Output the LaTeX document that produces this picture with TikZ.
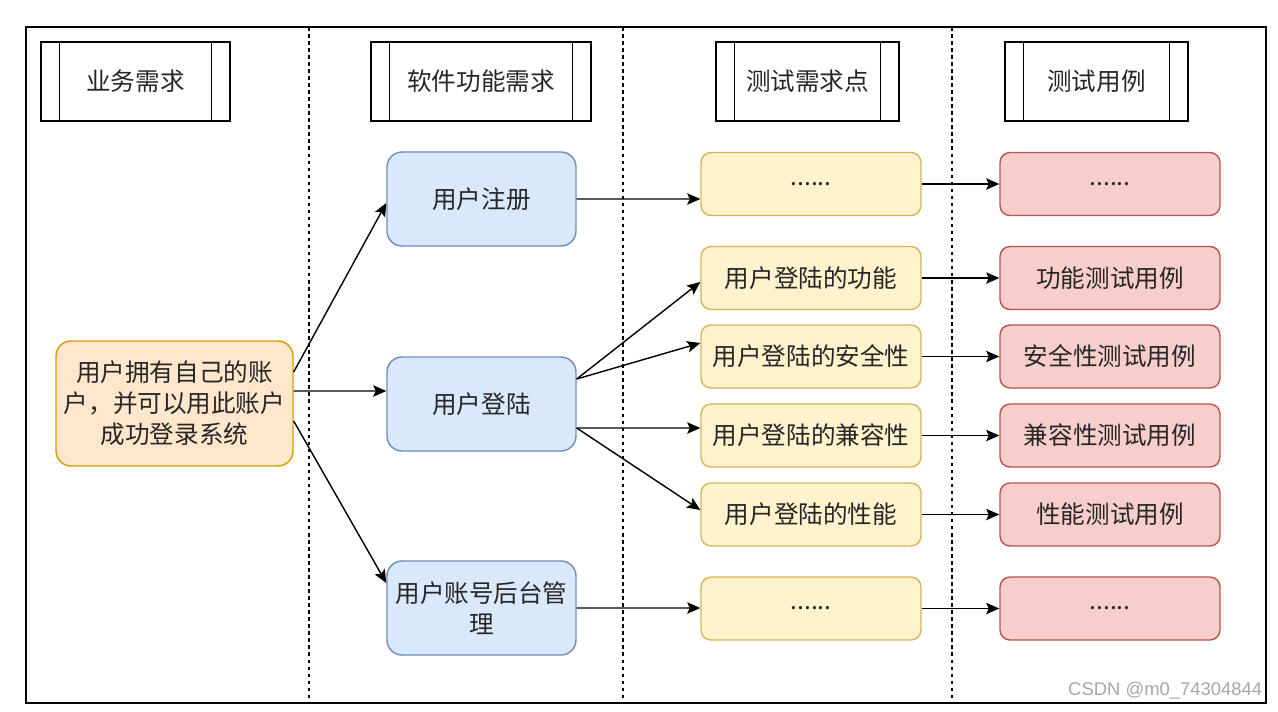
\documentclass[tikz,border=0pt]{standalone}
\usepackage{fontspec}
\usetikzlibrary{arrows.meta}
\newfontfamily\cjk{Noto Sans CJK SC}
\setsansfont{Liberation Sans}
\definecolor{bizfill}{HTML}{FFE6CC}
\definecolor{bizline}{HTML}{D79B00}
\definecolor{funfill}{HTML}{DAE8FC}
\definecolor{funline}{HTML}{6C8EBF}
\definecolor{ptfill}{HTML}{FFF2CC}
\definecolor{ptline}{HTML}{D6B656}
\definecolor{tcfill}{HTML}{F8CECC}
\definecolor{tcline}{HTML}{B85450}

\begin{document}
\begin{tikzpicture}[x=0.02cm, y=-0.02cm, line width=0.8pt,
    every node/.style={font=\cjk\fontsize{14}{17.6}\selectfont, text=black!85, inner sep=0pt, align=center},
    header/.style={draw=black, minimum height=1.58cm},
    biz/.style={draw=bizline, fill=bizfill, rounded corners=0.3cm, minimum width=4.74cm, minimum height=2.5cm},
    func/.style={draw=funline, fill=funfill, rounded corners=0.3cm, minimum width=3.78cm, minimum height=1.88cm},
    tpoint/.style={draw=ptline, fill=ptfill, rounded corners=0.2cm, minimum width=4.4cm, minimum height=1.26cm},
    tcase/.style={draw=tcline, fill=tcfill, rounded corners=0.2cm, minimum width=4.4cm, minimum height=1.26cm},
    lane/.style={black, line width=0.7pt, dash pattern=on 2pt off 2pt},
    link/.style={-{Stealth[length=7.5pt, width=6.5pt, inset=1.5pt]}, black}]
    \useasboundingbox (0,0) rectangle (1278,711);
    \draw[black] (26,27) rectangle (1266,703);
    \draw[lane] (309,27) -- (309,703);
    \draw[lane] (623,27) -- (623,703);
    \draw[lane] (952,27) -- (952,703);

    \node[header, minimum width=3.78cm] (hd1) at (135.5,81.5) {业务需求};
    \node[header, minimum width=4.4cm] (hd2) at (481,81.5) {软件功能需求};
    \node[header, minimum width=3.66cm] (hd3) at (807.5,81.5) {测试需求点};
    \node[header, minimum width=3.66cm] (hd4) at (1096.5,81.5) {测试用例};
    \foreach \h in {hd1,hd2,hd3,hd4} {
        \draw ([xshift=0.38cm]\h.north west) -- ([xshift=0.38cm]\h.south west);
        \draw ([xshift=-0.38cm]\h.north east) -- ([xshift=-0.38cm]\h.south east);
    }

    \node[biz] (own) at (174.5,403.5) {用户拥有自己的账\\户，并可以用此账户\\成功登录系统};

    \node[func] (reg) at (481.5,199) {用户注册};
    \node[func] (login) at (481.5,404) {用户登陆};
    \node[func] (admin) at (481.5,608) {用户账号后台管\\理};

    \node[tpoint] (tp1) at (811,184) {......};
    \node[tpoint] (tp2) at (811,278) {用户登陆的功能};
    \node[tpoint] (tp3) at (811,356.5) {用户登陆的安全性};
    \node[tpoint] (tp4) at (811,435.5) {用户登陆的兼容性};
    \node[tpoint] (tp5) at (811,514.5) {用户登陆的性能};
    \node[tpoint] (tp6) at (811,608.5) {......};

    \node[tcase] (tc1) at (1110,184) {......};
    \node[tcase] (tc2) at (1110,278) {功能测试用例};
    \node[tcase] (tc3) at (1110,356.5) {安全性测试用例};
    \node[tcase] (tc4) at (1110,435.5) {兼容性测试用例};
    \node[tcase] (tc5) at (1110,514.5) {性能测试用例};
    \node[tcase] (tc6) at (1110,608.5) {......};

    \draw[link] ([yshift=0.63cm]own.east) -- ([yshift=-0.08cm]reg.west);
    \draw[link] ([yshift=0.25cm]own.east) -- ([yshift=0.26cm]login.west);
    \draw[link] ([yshift=-0.35cm]own.east) -- ([yshift=0.5cm]admin.west);

    \draw[link] (reg.east) -- ([yshift=-0.3cm]tp1.west);
    \draw[link] ([yshift=0.5cm]login.east) -- ([yshift=-0.08cm]tp2.west);
    \draw[link] ([yshift=0.5cm]login.east) -- ([yshift=0.27cm]tp3.west);
    \draw[link] ([yshift=-0.48cm]login.east) -- ([yshift=0.15cm]tp4.west);
    \draw[link] ([yshift=-0.48cm]login.east) -- ([yshift=0.09cm]tp5.west);
    \draw[link] (admin.east) -- ([yshift=0.01cm]tp6.west);

    \foreach \i in {1,...,6} {
        \draw[link] (tp\i.east) -- (tc\i.west);
    }

    \node[font=\sffamily\fontsize{10.5}{12}\selectfont, text=black!35, anchor=south east] (mark) at (1263,700) {CSDN @m0\_74304844};
\end{tikzpicture}
\end{document}
